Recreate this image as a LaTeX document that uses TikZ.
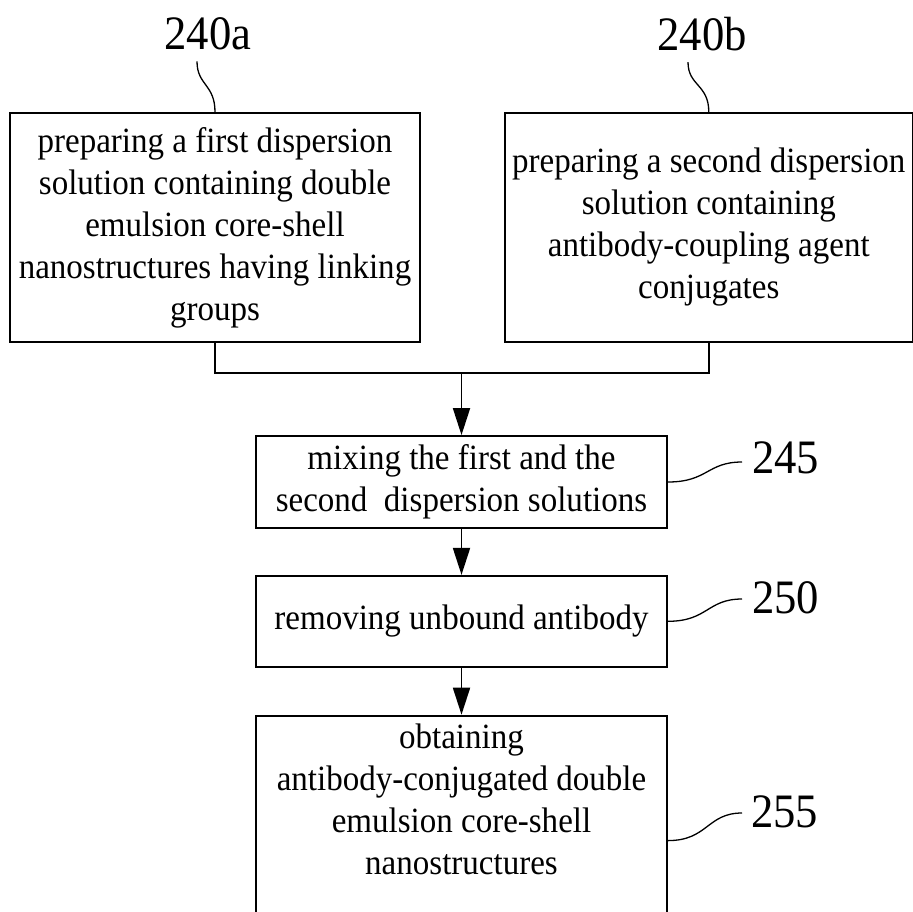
\documentclass[tikz,border=0pt]{standalone}
\usepackage{fontspec}
\setmainfont{Liberation Serif}[FakeStretch=0.93]
\usetikzlibrary{positioning, arrows.meta, calc}

\begin{document}
\begin{tikzpicture}[
        x=1pt, y=1pt,
        node distance=46pt,
        stepbox/.style={rectangle, draw=black, line width=1.8pt, minimum width=411pt, inner sep=0pt, align=center, font=\fontsize{35.5}{42}\selectfont},
        tag/.style={font=\fontsize{48}{52}\selectfont, inner sep=0pt},
        arrow/.style={-{Triangle[length=27pt, width=17pt]}, line width=1.8pt},
        leader/.style={line width=1.3pt}
    ]
    \useasboundingbox (0,0) rectangle (913,-911);
    \clip (0,0) rectangle (913,-911);

    % The two preparation steps side by side
    \node[stepbox, minimum width=410pt, minimum height=229pt] (prepA) at (215,-227.5) {preparing a first dispersion\\solution containing double\\emulsion core-shell\\nanostructures having linking\\groups};
    \node[stepbox, minimum width=408pt, minimum height=229pt, right=83pt of prepA] (prepB) {preparing a second dispersion\\solution containing\\antibody-coupling agent\\conjugates};

    % Steps in a column below
    \node[stepbox, minimum height=92pt] (mix) at (461.5,-482) {mixing the first and the\\second~~dispersion solutions};
    \node[stepbox, minimum height=91pt, below=46pt of mix] (remove) {removing unbound antibody};
    \node[stepbox, below=47pt of remove] (obtain) {\parbox[c][250pt][t]{411pt}{\centering\rule{0pt}{33pt}obtaining\\antibody-conjugated double\\emulsion core-shell\\nanostructures}};

    % Reference numerals
    \node[tag] (t240a) at (208,-34) {240a};
    \node[tag] (t240b) at (702,-34) {240b};
    \node[tag, anchor=west] (t245) at (752,-458) {245};
    \node[tag, anchor=west] (t250) at (752,-598) {250};
    \node[tag, anchor=west] (t255) at (751,-812) {255};

    % Leader lines to the numerals
    \draw[leader] (prepA.north) .. controls +(0,28) and +(0,-24) .. ([xshift=-11pt, yshift=-11pt]t240a.south);
    \draw[leader] (prepB.north) .. controls +(0,28) and +(0,-24) .. ([xshift=-14pt, yshift=-11pt]t240b.south);
    \draw[leader] (mix.east) .. controls +(40,0) and +(-35,0) .. ([xshift=-10pt, yshift=-4pt]t245.west);
    \draw[leader] (remove.east) .. controls +(40,0) and +(-35,0) .. ([xshift=-10pt, yshift=-1pt]t250.west);
    \draw[leader] (obtain.east) .. controls +(40,0) and +(-35,0) .. ([xshift=-9pt, yshift=-1pt]t255.west);

    % Flow between the steps
    \coordinate (join) at (461.5,-373);
    \draw[line width=1.8pt] (prepA.south) |- (join) -| (prepB.south);
    \draw[arrow] (join) -- (mix.north);
    \draw[arrow] (mix.south) -- (remove.north);
    \draw[arrow] (remove.south) -- (obtain.north);

\end{tikzpicture}
\end{document}
